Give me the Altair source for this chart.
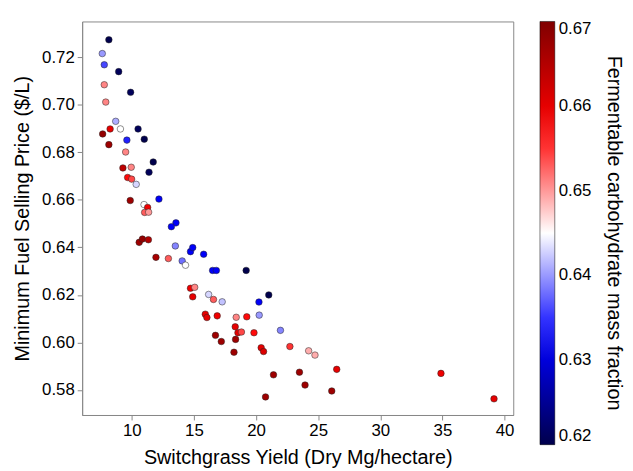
import altair as alt
import pandas as pd

yield_x = [8.15, 7.62, 7.78, 8.94, 7.78, 9.90, 7.90, 8.70, 7.65, 8.25, 9.08, 10.50, 9.60, 11.00,
           8.15, 9.50, 11.72, 9.28, 9.95, 11.38, 9.66, 9.98, 10.35, 9.87, 10.98, 11.27, 12.18,
           11.03, 11.35, 13.55, 13.18, 10.59, 10.85, 11.33, 13.50, 11.94, 12.94, 14.05, 14.32,
           14.72, 14.90, 15.78, 16.50, 16.80, 19.20, 14.72, 15.06, 14.90, 16.18, 16.57, 17.27,
           21.02, 20.23, 15.91, 16.04, 16.87, 18.40, 19.25, 20.25, 18.32, 18.54, 18.82, 19.83,
           21.96, 16.73, 17.20, 18.35, 18.22, 20.41, 20.60, 22.72, 24.23, 24.74, 26.49, 21.40,
           23.49, 23.94, 26.09, 20.76, 34.88, 39.15]
mfsp = [0.7273, 0.7215, 0.7168, 0.7139, 0.7084, 0.7052, 0.7011, 0.6930, 0.6877, 0.6898, 0.6898,
        0.6898, 0.6851, 0.6855, 0.6832, 0.6801, 0.6759, 0.6734, 0.6737, 0.6716, 0.6694, 0.6687,
        0.6665, 0.6597, 0.6580, 0.6568, 0.6603, 0.6547, 0.6548, 0.6503, 0.6487, 0.6421, 0.6435,
        0.6432, 0.6406, 0.6358, 0.6353, 0.6343, 0.6325, 0.6382, 0.6399, 0.6371, 0.6303, 0.6303,
        0.6303, 0.6228, 0.6232, 0.6192, 0.6202, 0.6181, 0.6171, 0.6200, 0.6170, 0.6119, 0.6105,
        0.6112, 0.6106, 0.6108, 0.6115, 0.6066, 0.6041, 0.6044, 0.6041, 0.6051, 0.6030, 0.6004,
        0.6013, 0.5959, 0.5978, 0.5962, 0.5983, 0.5965, 0.5947, 0.5887, 0.5864, 0.5875, 0.5821,
        0.5796, 0.5771, 0.5870, 0.5763]
carb = [0.620, 0.640, 0.636, 0.621, 0.651, 0.621, 0.651, 0.641, 0.668, 0.660, 0.645, 0.621,
        0.634, 0.620, 0.667, 0.651, 0.620, 0.664, 0.651, 0.621, 0.657, 0.654, 0.643, 0.667,
        0.645, 0.659, 0.632, 0.653, 0.650, 0.632, 0.632, 0.667, 0.668, 0.665, 0.639, 0.666,
        0.653, 0.638, 0.645, 0.632, 0.632, 0.632, 0.632, 0.632, 0.620, 0.659, 0.651, 0.660,
        0.643, 0.653, 0.642, 0.620, 0.632, 0.660, 0.660, 0.659, 0.651, 0.657, 0.640, 0.660,
        0.660, 0.654, 0.657, 0.639, 0.667, 0.667, 0.667, 0.667, 0.660, 0.661, 0.655, 0.649,
        0.649, 0.660, 0.667, 0.667, 0.667, 0.667, 0.667, 0.659, 0.660]

x_ticks = [10, 15, 20, 25, 30, 35, 40]
y_ticks = [0.58, 0.60, 0.62, 0.64, 0.66, 0.68, 0.70, 0.72]
cbar_ticks = [0.62, 0.63, 0.64, 0.65, 0.66, 0.67]
cbar_title = "Fermentable carbohydrate mass fraction"

df = pd.DataFrame({"x": yield_x, "y": mfsp, "c": carb})

FONT = "Liberation Sans"

points = alt.Chart(df).mark_circle(size=44, opacity=1, stroke="#222222", strokeWidth=0.5).encode(
    x=alt.X("x:Q", scale=alt.Scale(domain=[6.0, 40.7], nice=False, zero=False),
            axis=alt.Axis(title="Switchgrass Yield (Dry Mg/hectare)", values=x_ticks, format="d",
                          grid=False)),
    y=alt.Y("y:Q", scale=alt.Scale(domain=[0.5695, 0.735], nice=False, zero=False),
            axis=alt.Axis(title="Minimum Fuel Selling Price ($/L)", values=y_ticks, format=".2f",
                          grid=False)),
    color=alt.Color("c:Q",
                    scale=alt.Scale(domain=[0.62, 0.6325, 0.645, 0.6575, 0.67],
                                    range=["#00004c", "#0000ff", "#ffffff", "#ff0000", "#800000"],
                                    interpolate="rgb", clamp=True),
                    legend=alt.Legend(title=None,
                                      orient="none", legendX=463, legendY=0,
                                      direction="vertical", gradientLength=428,
                                      gradientThickness=15, values=cbar_ticks, format=".2f",
                                      labelFontSize=17, labelFont=FONT,
                                      labelColor="black", labelOffset=4,
                                      gradientStrokeColor="black", gradientStrokeWidth=0.5,
                                      tickCount=6)),
)

title_df = pd.DataFrame({"t": [cbar_title]})
cbar_label = alt.Chart(title_df).mark_text(
    angle=90, fontSize=20, font=FONT, color="black", align="center", baseline="middle"
).encode(
    text="t:N",
    x=alt.value(538),
    y=alt.value(214),
)

chart = alt.layer(points, cbar_label).properties(
    width=436, height=398,
    autosize=alt.AutoSizeParams(type="none"),
    padding={"left": 75, "top": 11, "right": 113, "bottom": 53},
).configure_axis(
    labelFont=FONT, titleFont=FONT, labelFontSize=17, titleFontSize=20,
    titleFontWeight="normal", labelColor="black", titleColor="black",
    domainColor="#888888", tickColor="#888888", tickSize=5, labelPadding=3,
).configure_axisX(titlePadding=9).configure_axisY(titlePadding=9).configure_view(
    stroke="#888888", strokeWidth=1
)

chart.save("out.html", embed_options={"renderer": "svg", "actions": False})
